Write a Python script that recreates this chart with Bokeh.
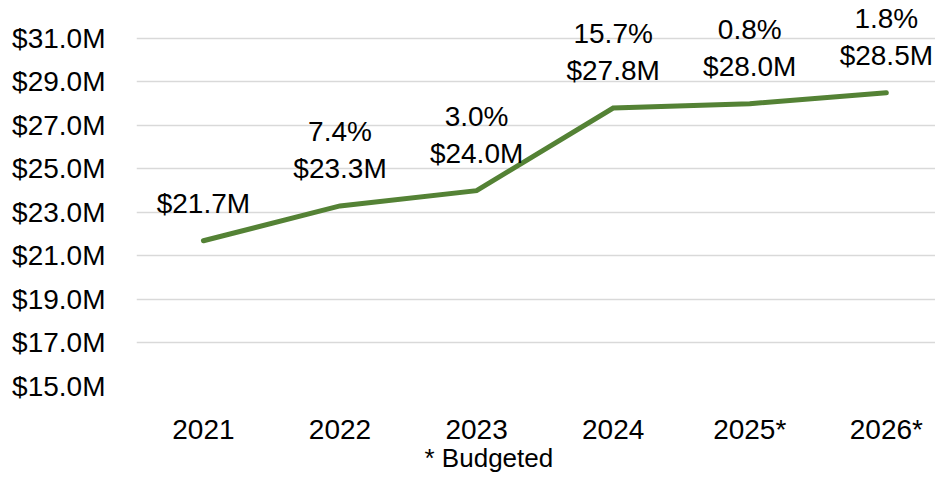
from bokeh.plotting import figure
from bokeh.models import FixedTicker, ColumnDataSource, LinearAxis
from bokeh.core.properties import value
from bokeh.embed import file_html
from bokeh.resources import INLINE

years = ["2021", "2022", "2023", "2024", "2025*", "2026*"]
revenue = [21.7, 23.3, 24.0, 27.8, 28.0, 28.5]
amount_labels = ["$21.7M", "$23.3M", "$24.0M", "$27.8M", "$28.0M", "$28.5M"]
growth_labels = ["", "7.4%", "3.0%", "15.7%", "0.8%", "1.8%"]
y_ticks = [15, 17, 19, 21, 23, 25, 27, 29, 31]
footnote = "* Budgeted"
footnote_pos = 2.09

FONT = "Liberation Sans"
FS = "28px"
GREEN = "#548235"

idx = list(range(len(years)))
src = ColumnDataSource(dict(x=idx, y=revenue, amt=amount_labels, pct=growth_labels))

p = figure(width=935, height=475, output_backend="svg", toolbar_location=None,
           x_range=(-0.49, 5.36), y_range=(15, 32.74),
           min_border_left=136, min_border_right=0, min_border_top=0, min_border_bottom=87)
p.outline_line_color = None
p.background_fill_color = "white"
p.border_fill_color = "white"

p.line("x", "y", source=src, line_color=GREEN, line_width=5, line_cap="round", line_join="miter")

p.text("x", "y", text="amt", source=src, y_offset=-37, text_align="center",
       text_baseline="middle", text_font=value(FONT), text_font_size=FS, text_color="black")
p.text("x", "y", text="pct", source=src, y_offset=-74, text_align="center",
       text_baseline="middle", text_font=value(FONT), text_font_size=FS, text_color="black")

p.xgrid.grid_line_color = None
p.ygrid.grid_line_color = "#d9d9d9"
p.ygrid.grid_line_width = 1.5
p.yaxis.ticker = FixedTicker(ticks=y_ticks)
p.ygrid.ticker = FixedTicker(ticks=y_ticks)
p.yaxis.major_label_overrides = {t: f"${t:.1f}M" for t in y_ticks}
p.xaxis.ticker = FixedTicker(ticks=idx)
p.xaxis.major_label_overrides = {i: y for i, y in enumerate(years)}

note_axis = LinearAxis(ticker=FixedTicker(ticks=[footnote_pos]),
                       major_label_overrides={footnote_pos: footnote})
p.add_layout(note_axis, "below")

for ax in (p.xaxis[0], p.yaxis[0], note_axis):
    ax.axis_line_color = None
    ax.major_tick_line_color = None
    ax.minor_tick_line_color = None
    ax.major_tick_out = 0
    ax.major_tick_in = 0
    ax.minor_tick_out = 0
    ax.minor_tick_in = 0
    ax.major_label_text_font = FONT
    ax.major_label_text_font_size = FS
    ax.major_label_text_color = "black"
note_axis.major_label_text_font_size = "26px"
note_axis.major_label_standoff = -5
p.yaxis.major_label_standoff = 31
p.xaxis[0].major_label_standoff = 27

open("out.html", "w").write(file_html(p, INLINE))
